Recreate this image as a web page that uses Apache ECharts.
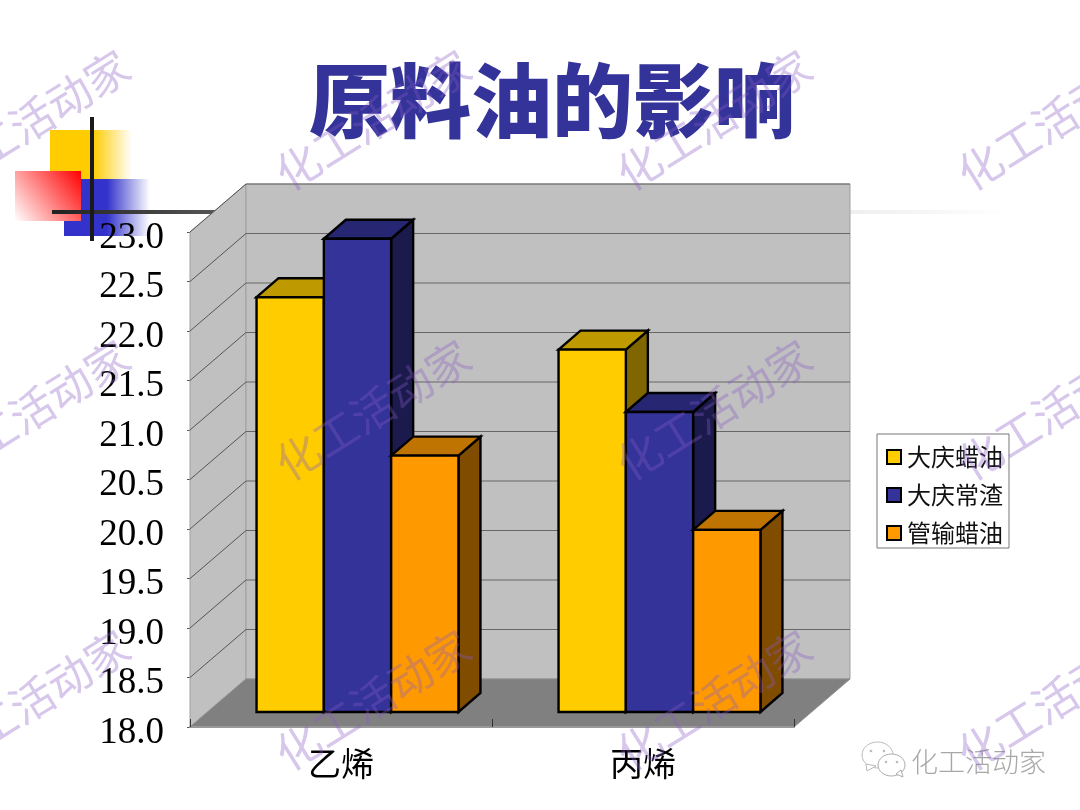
<!DOCTYPE html>
<html><head><meta charset="utf-8">
<style>html,body{margin:0;padding:0;background:#fff}#c{width:1080px;height:810px}</style>
<script src="https://cdn.jsdelivr.net/npm/echarts@6/dist/echarts.min.js"></script>
</head><body><div id="c"></div>
<script>
const categories = ['乙烯', '丙烯'];
const seriesNames = ['大庆蜡油', '大庆常渣', '管输蜡油'];
const daqingWax = [22.19, 21.66];
const daqingResidue = [22.78, 21.03];
const pipelineWax = [20.59, 19.84];
const yTicks = [18, 18.5, 19, 19.5, 20, 20.5, 21, 21.5, 22, 22.5, 23];

const WALL_DX = 56, WALL_DY = -48, BAR_DX = 22, BAR_DY = -19, BAR_SHIFT_X = 16.5, BAR_SHIFT_Y = -15, BAR_W = 67.3;
const CJK = '"Noto Sans CJK SC"';

function poly(points, fill, stroke, lw) {
  return { type: 'polygon', shape: { points }, style: { fill, stroke: stroke || 'none', lineWidth: lw || 0 } };
}
function line(x1, y1, x2, y2, stroke, lw) {
  return { type: 'line', shape: { x1, y1, x2, y2 }, style: { stroke, lineWidth: lw || 1 } };
}
function wallsItem(params) {
  const c = params.coordSys, L = c.x, R = c.x + c.width, T = c.y, B = c.y + c.height;
  return { type: 'group', children: [
    poly([[L, B], [L + WALL_DX, B + WALL_DY], [L + WALL_DX, T + WALL_DY], [L, T]], '#c0c0c0', '#a0a0a0', 1),
    poly([[L + WALL_DX, B + WALL_DY], [R + WALL_DX, B + WALL_DY], [R + WALL_DX, T + WALL_DY], [L + WALL_DX, T + WALL_DY]], '#c0c0c0', '#a0a0a0', 1),
    poly([[L, B], [R, B], [R + WALL_DX, B + WALL_DY], [L + WALL_DX, B + WALL_DY]], '#808080', '#8c8c8c', 1)
  ] };
}
function gridItem(params, api) {
  const c = params.coordSys, L = c.x, R = c.x + c.width;
  const y = api.coord([0, api.value(1)])[1];
  if (api.value(1) === yTicks[0]) return null;
  return { type: 'group', children: [
    line(L, y, L + WALL_DX, y + WALL_DY, '#555', 1),
    line(L + WALL_DX, y + WALL_DY, R + WALL_DX, y + WALL_DY, '#666', 1.2)
  ] };
}
function barRenderer(slot, front, top, side) {
  return function (params, api) {
    const cat = api.value(0), p = api.coord([cat, api.value(1)]), base = api.coord([cat, yTicks[0]]);
    const x0 = p[0] + BAR_SHIFT_X + (slot - 1.5) * BAR_W, x1 = x0 + BAR_W;
    const yt = p[1] + BAR_SHIFT_Y, yb = base[1] + BAR_SHIFT_Y;
    return { type: 'group', children: [
      poly([[x1, yb], [x1 + BAR_DX, yb + BAR_DY], [x1 + BAR_DX, yt + BAR_DY], [x1, yt]], side, '#000', 2.4),
      poly([[x0, yt], [x0 + BAR_DX, yt + BAR_DY], [x1 + BAR_DX, yt + BAR_DY], [x1, yt]], top, '#000', 2.4),
      poly([[x0, yb], [x1, yb], [x1, yt], [x0, yt]], front, '#000', 2.4)
    ] };
  };
}
function barSeries(name, values, slot, front, top, side) {
  return { type: 'custom', name, z: 5, coordinateSystem: 'cartesian2d', clip: false,
    itemStyle: { color: front, borderColor: '#000', borderWidth: 2 },
    encode: { x: 0, y: 1 }, data: values.map((v, i) => [i, v]),
    renderItem: barRenderer(slot, front, top, side) };
}
function grad(x, y, x2, y2, stops) {
  return { type: 'linear', x, y, x2, y2, colorStops: stops.map(s => ({ offset: s[0], color: s[1] })) };
}
const decor = [
  { type: 'rect', z: 0, shape: { x: 50, y: 130, width: 82, height: 50 }, style: { fill: grad(0, 0, 1, 0, [[0, '#FFCC00'], [0.52, '#FFCC00'], [1, '#FFFFFF']]) } },
  { type: 'rect', z: 0, shape: { x: 64, y: 179, width: 86, height: 57 }, style: { fill: grad(0, 0, 1, 0, [[0, '#3333CC'], [0.5, '#3333CC'], [1, '#FFFFFF']]) } },
  { type: 'rect', z: 0, shape: { x: 15, y: 171, width: 66, height: 50 }, style: { fill: grad(1, 0, 0, 1, [[0, '#FF0000'], [1, '#FFFFFF']]) } },
  { type: 'rect', z: 0, shape: { x: 52, y: 210, width: 958, height: 4 }, style: { fill: grad(0, 0, 1, 0, [[0, '#222'], [0.17, '#555'], [0.83, '#eee'], [1, '#fff']]) } },
  { type: 'rect', z: 0, shape: { x: 90, y: 117, width: 4, height: 124 }, style: { fill: '#1a1a1a' } }
];
const marks = [];
[32, 373, 714, 1055].forEach(x => [120, 410, 700].forEach(y => {
  marks.push({ type: 'text', z: 100, x, y, rotation: 32 * Math.PI / 180,
    style: { text: '化工活动家', font: '400 44px ' + CJK, fill: 'rgba(135,90,195,0.34)', align: 'center', verticalAlign: 'middle' } });
}));
const eyes = [[871, 751], [884, 751], [886, 762], [897, 762]].map(e => (
  { type: 'circle', z: 93, shape: { cx: e[0], cy: e[1], r: 1.3 }, style: { fill: '#bbb' } }));
const wechat = [
  { type: 'ellipse', z: 90, shape: { cx: 877.5, cy: 755, rx: 15.5, ry: 13 }, style: { fill: '#fff', stroke: '#bbb', lineWidth: 1 } },
  { type: 'polygon', z: 90, shape: { points: [[866, 764], [867, 771], [876, 766]] }, style: { fill: '#fff', stroke: '#bbb', lineWidth: 1 } },
  { type: 'ellipse', z: 91, shape: { cx: 891.5, cy: 765, rx: 13.5, ry: 11 }, style: { fill: '#fff', stroke: '#aaa', lineWidth: 1 } },
  { type: 'polygon', z: 91, shape: { points: [[896, 774], [903, 777], [901, 770]] }, style: { fill: '#fff', stroke: '#aaa', lineWidth: 1 } },
  { type: 'text', z: 92, x: 978.5, y: 762, style: { text: '化工活动家', font: '300 27px ' + CJK, fill: '#a8a8a8', align: 'center', verticalAlign: 'middle' } }
].concat(eyes);

const chart = echarts.init(document.getElementById('c'), null, { renderer: 'canvas', width: 1080, height: 810 });
chart.setOption({
  backgroundColor: '#fff',
  animation: false,
  title: { text: '原料油的影响', left: 547, top: 55, textAlign: 'center',
    textStyle: { color: '#333399', fontFamily: CJK, fontWeight: 900, fontSize: 81 } },
  legend: { orient: 'vertical', left: 877, top: 434, padding: [11, 6, 3, 9], itemGap: 14, itemWidth: 14, itemHeight: 14,
    backgroundColor: '#fff', borderColor: '#777', borderWidth: 1, borderRadius: 0,
    data: seriesNames.map(name => ({ name, icon: 'rect' })),
    itemStyle: { borderColor: '#000', borderWidth: 2 },
    textStyle: { fontFamily: CJK, fontSize: 24, color: '#111', padding: [0, 0, 0, 1], lineHeight: 24 } },
  grid: { left: 190, right: 286, top: 232, bottom: 83, containLabel: false },
  xAxis: { type: 'category', data: categories, z: 3,
    axisLine: { lineStyle: { color: '#999', width: 2 } },
    axisTick: { show: true, inside: true, length: 8, lineStyle: { color: '#333' }, alignWithLabel: false },
    axisLabel: { fontFamily: CJK, fontSize: 33, color: '#000', margin: 20 } },
  yAxis: { type: 'value', min: 18, max: 23, interval: 0.5,
    axisLine: { show: false }, splitLine: { show: false },
    axisTick: { show: true, length: 3, lineStyle: { color: '#555' } },
    axisLabel: { fontFamily: '"Liberation Serif"', fontSize: 37, color: '#000', margin: 26, verticalAlign: 'top', lineHeight: 12,
      formatter: v => v.toFixed(1) } },
  series: [
    { type: 'custom', name: 'walls', z: 1, silent: true, coordinateSystem: 'cartesian2d', clip: false,
      encode: { x: 0, y: 1 }, data: [[0, yTicks[0]]], renderItem: wallsItem },
    { type: 'custom', name: 'gridlines', z: 2, silent: true, coordinateSystem: 'cartesian2d', clip: false,
      encode: { x: 0, y: 1 }, data: yTicks.map(t => [0, t]), renderItem: gridItem },
    barSeries(seriesNames[0], daqingWax, 0, '#FFCC00', '#BF9900', '#806600'),
    barSeries(seriesNames[1], daqingResidue, 1, '#333399', '#262673', '#1A1A4D'),
    barSeries(seriesNames[2], pipelineWax, 2, '#FF9900', '#BF7300', '#804D00')
  ],
  graphic: { elements: decor.concat(wechat, marks) }
});
</script></body></html>
